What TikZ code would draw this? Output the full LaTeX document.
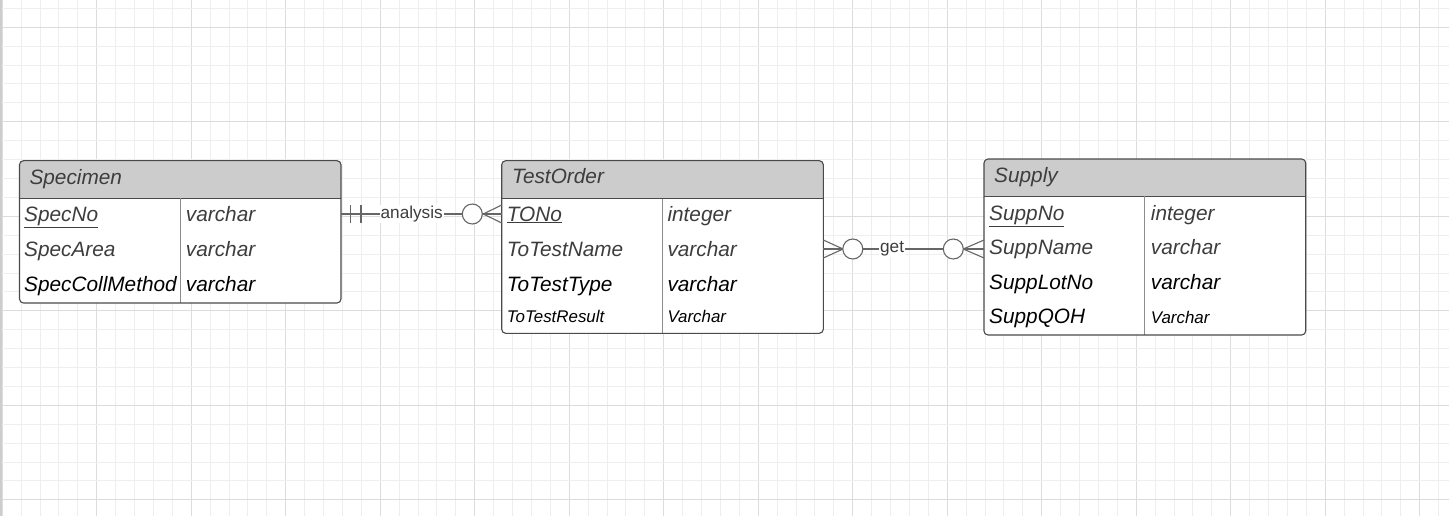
\documentclass[tikz,border=0pt]{standalone}
\usepackage{fontspec}
\setmainfont{Liberation Sans}
\usetikzlibrary{calc}
\definecolor{gridminor}{HTML}{EEEEEE}
\definecolor{gridmajor}{HTML}{DCDCDC}
\definecolor{gridedge}{HTML}{CDCDCD}
\definecolor{hdr}{HTML}{CCCCCC}
\definecolor{bord}{HTML}{4A4A4A}
\definecolor{divc}{HTML}{8C8C8C}
\definecolor{txtg}{HTML}{3D3D3D}
\definecolor{lnk}{HTML}{666666}
\newcommand\ertable[7]{% name, x1, y1, x2, y2, header bottom, divider x
  \node[tablebody, minimum width={#4-#2}, minimum height={#5-#3}] (#1) at ({(#2+#4)/2},{(#3+#5)/2}) {};
  \begin{scope}
    \clip[rounded corners=4] (#2,#3) rectangle (#4,#5);
    \fill[hdr] (#2,#3) rectangle (#4,#6);
  \end{scope}
  \draw[bord] (#2,#6) -- (#4,#6);
  \draw[divline] (#7,#6) -- (#7,#5);
  \draw[bord, rounded corners=4] (#2,#3) rectangle (#4,#5);
}
\begin{document}
\begin{tikzpicture}[x=1pt,y=-1pt,
  gmin/.style={draw=gridminor, line width=1pt},
  gmaj/.style={draw=gridmajor, line width=1.2pt},
  tablebody/.style={fill=white, inner sep=0pt, outer sep=0pt},
  bord/.style={draw=bord, line width=1.1pt},
  divline/.style={draw=divc, line width=1.1pt},
  cell/.style={anchor=base west, inner sep=0pt, font=\fontsize{20.8}{24}\selectfont\itshape, text=txtg},
  cellk/.style={cell, text=black},
  cellsmall/.style={cell, font=\fontsize{16.9}{19}\selectfont\itshape, text=black},
  rowbox/.style={inner sep=0pt, outer sep=0pt, minimum height=30pt},
  link/.style={draw=lnk, line width=1.1pt},
  lbl/.style={fill=white, inner sep=1pt, text=txtg, font=\fontsize{17.2}{20}\selectfont},
  ring/.style={draw=lnk, line width=1.1pt, fill=white}]
\path[use as bounding box] (0,0) rectangle (1449,516);
\fill[white] (0,0) rectangle (1449,516);
% grid
\foreach \k in {0,...,76}{
  \pgfmathtruncatemacro\m{mod(\k,5)}
  \ifnum\m=0
    \draw[gmaj] (2.2+18.9*\k,0) -- (2.2+18.9*\k,516);
  \else
    \draw[gmin] (2.2+18.9*\k,0) -- (2.2+18.9*\k,516);
  \fi
}
\foreach \k in {0,...,27}{
  \pgfmathtruncatemacro\m{mod(\k,5)}
  \ifnum\m=1
    \draw[gmaj] (0,8.4+18.9*\k) -- (1449,8.4+18.9*\k);
  \else
    \draw[gmin] (0,8.4+18.9*\k) -- (1449,8.4+18.9*\k);
  \fi
}
\draw[draw=gridedge, line width=2pt] (1,0) -- (1,516);

% Specimen
\ertable{spec}{19.5}{160.7}{341}{303}{198.3}{180.5}
\node[cell] (specH) at (29.3,184.3) {Specimen};
\node[cell] (specA1) at (24,221) {\underline{SpecNo}};
\node[cell] (specB1) at (185.7,221) {varchar};
\node[cell] (specA2) at (24,256) {SpecArea};
\node[cell] (specB2) at (185.7,256) {varchar};
\node[cellk] (specA3) at (24,291) {SpecCollMethod};
\node[cellk] (specB3) at (185.7,291) {varchar};
\node[rowbox, minimum width=321.5] (specR1) at (180.25,214) {};

% TestOrder
\ertable{tord}{501.7}{160.7}{823.3}{333.3}{198.7}{662.3}
\node[cell] (tordH) at (512,184) {TestOrder};
\node[cell] (tordA1) at (506.7,221) {\underline{TONo}};
\node[cell] (tordB1) at (667.3,221) {integer};
\node[cell] (tordA2) at (506.7,256) {ToTestName};
\node[cell] (tordB2) at (667.3,256) {varchar};
\node[cellk] (tordA3) at (506.7,291) {ToTestType};
\node[cellk] (tordB3) at (667.3,291) {varchar};
\node[cellsmall] (tordA4) at (506.7,322.7) {ToTestResult};
\node[cellsmall] (tordB4) at (667.3,322.7) {Varchar};
\node[rowbox, minimum width=321.6] (tordR1) at (662.5,214) {};
\node[rowbox, minimum width=321.6] (tordR2) at (662.5,249) {};

% Supply
\ertable{supp}{984}{159}{1305.7}{335}{196.3}{1144.7}
\node[cell] (suppH) at (994,182.3) {Supply};
\node[cell] (suppA1) at (989,220) {\underline{SuppNo}};
\node[cell] (suppB1) at (1150.7,220) {integer};
\node[cell] (suppA2) at (989,254.3) {SuppName};
\node[cell] (suppB2) at (1150.7,254.3) {varchar};
\node[cellk] (suppA3) at (989,289) {SuppLotNo};
\node[cellk] (suppB3) at (1150.7,289) {varchar};
\node[cellk] (suppA4) at (989,323.3) {SuppQOH};
\node[cellsmall] (suppB4) at (1150.7,323.3) {Varchar};
\node[rowbox, minimum width=321.7] (suppR2) at (1144.85,249) {};

% analysis: Specimen (one and only one) -- TestOrder (zero or many)
\draw[link] (specR1.east) -- (tordR1.west)
  node[lbl, pos=0.44] (lblA) {analysis};
\draw[link] ($(specR1.east)+(9.7,-9)$) -- ($(specR1.east)+(9.7,9)$);
\draw[link] ($(specR1.east)+(20,-9)$) -- ($(specR1.east)+(20,9)$);
\draw[link] ($(tordR1.west)+(-18.4,0)$) -- ($(tordR1.west)+(0,-9)$);
\draw[link] ($(tordR1.west)+(-18.4,0)$) -- ($(tordR1.west)+(0,9)$);
\draw[ring] ($(tordR1.west)+(-29.4,0)$) circle (10);

% get: TestOrder (zero or many) -- Supply (zero or many)
\draw[link] (tordR2.east) -- (suppR2.west)
  node[lbl, pos=0.428] (lblG) {get};
\draw[link] ($(tordR2.east)+(19.7,0)$) -- ($(tordR2.east)+(0,-9)$);
\draw[link] ($(tordR2.east)+(19.7,0)$) -- ($(tordR2.east)+(0,9)$);
\draw[ring] ($(tordR2.east)+(29.5,0)$) circle (10);
\draw[link] ($(suppR2.west)+(-20.7,0)$) -- ($(suppR2.west)+(0,-9)$);
\draw[link] ($(suppR2.west)+(-20.7,0)$) -- ($(suppR2.west)+(0,9)$);
\draw[ring] ($(suppR2.west)+(-30.7,0)$) circle (10);
\end{tikzpicture}
\end{document}
